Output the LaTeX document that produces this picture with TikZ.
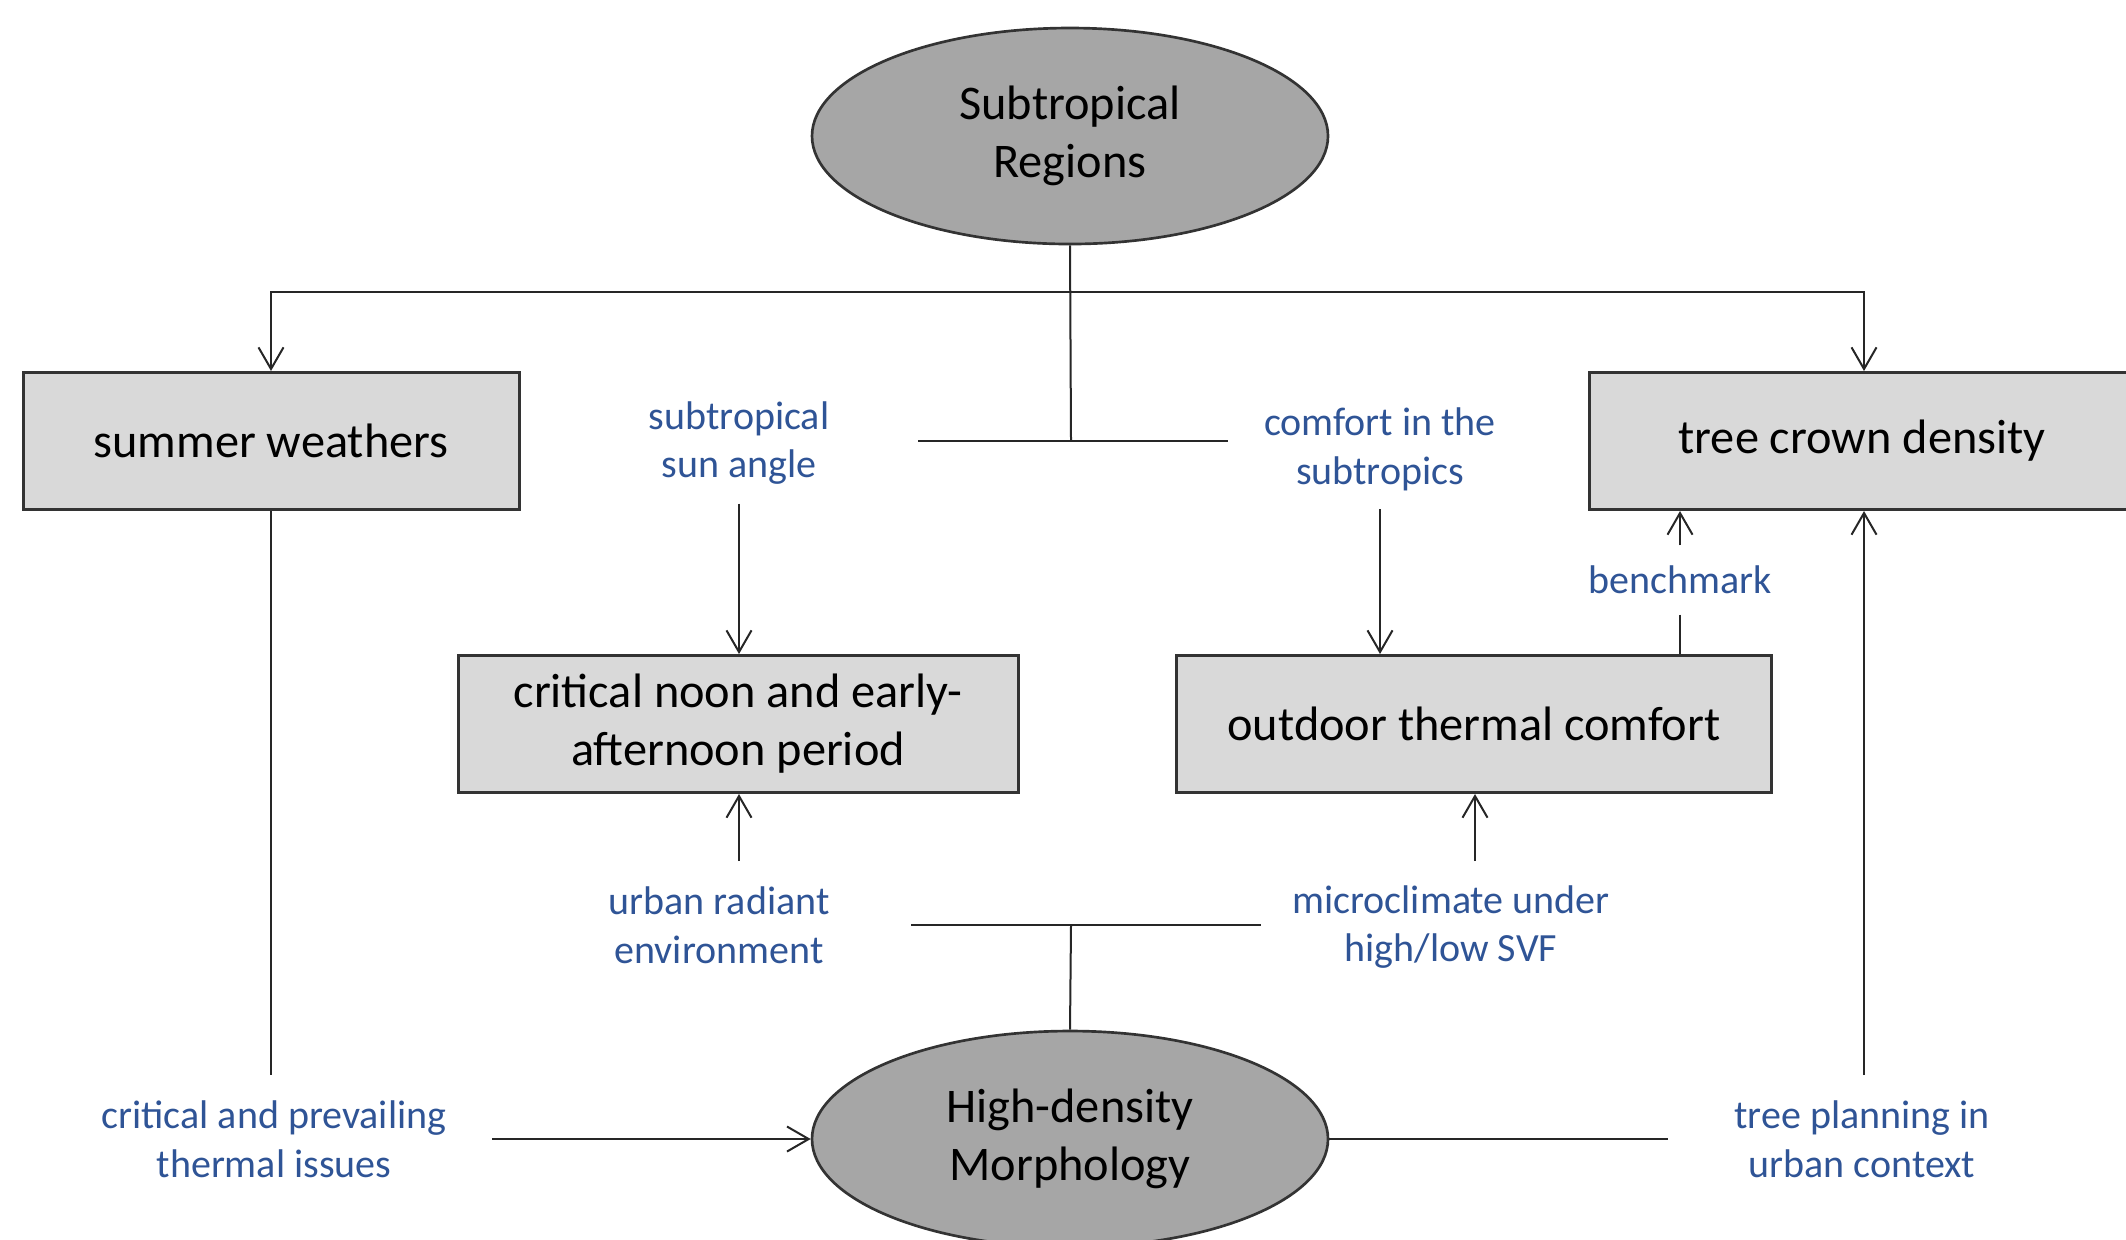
\documentclass[tikz,border=0pt]{standalone}
\usepackage{fontspec}
\setmainfont{Carlito}
\usetikzlibrary{shapes.geometric,arrows.meta}
\definecolor{boxgray}{RGB}{217,217,217}
\definecolor{hubgray}{RGB}{166,166,166}
\definecolor{noteblue}{RGB}{47,84,150}

\begin{document}
\begin{tikzpicture}[x=0.3pt,y=-0.3pt,
	hub/.style={ellipse, draw=black!80, fill=hubgray, line width=0.8pt, minimum width=154.8pt, minimum height=64.8pt, inner sep=0pt, align=center, font=\fontsize{14.5}{17.4}\selectfont},
	box/.style={rectangle, draw=black!80, fill=boxgray, line width=0.9pt, minimum height=41.1pt, align=center, font=\fontsize{14.5}{17.4}\selectfont},
	note/.style={align=center, text=noteblue, inner sep=5.5pt, font=\fontsize{12}{14.6}\selectfont},
	arr/.style={-{Straight Barb[length=6.5pt,width=7.5pt]}, line width=0.6pt, draw=black!85},
	link/.style={line width=0.6pt, draw=black!85}]
	\clip (0,0) rectangle (2126,1239);
	\useasboundingbox (0,0) rectangle (2126,1239);
	% main nodes
	\node (SR) at (1070, 136)	[hub]	{Subtropical\\Regions};
	\node (HM) at (1070,1139)	[hub]	{High-density\\Morphology};
	\node (SW) at ( 271, 441)	[box, minimum width=148.8pt]	{summer weathers};
	\node (TC) at (1862, 441)	[box, minimum width=163.5pt]	{tree crown density};
	\node (CN) at ( 738, 724)	[box, minimum width=168pt]	{critical noon and early-\\afternoon period};
	\node (OT) at (1474, 724)	[box, minimum width=178.5pt]	{outdoor thermal comfort};
	% labels
	\node (SA) at ( 739, 443)	[note]	{subtropical\\sun angle};
	\node (CS) at (1380, 449)	[note]	{comfort in the\\subtropics};
	\node (BM) at (1680, 580)	[note, inner sep=0pt, minimum height=20.4pt]	{benchmark};
	\node (UR) at ( 719, 925)	[note]	{urban radiant\\environment};
	\node (MC) at (1451, 927)	[note]	{microclimate under\\high/low SVF};
	\node (CP) at ( 274,1139)	[note]	{critical and prevailing\\thermal issues};
	\node (TP) at (1862,1139)	[note]	{tree planning in\\urban context};
	% junctions
	\coordinate (B)   at (1071, 292);
	\coordinate (T1)  at (1071, 441);
	\coordinate (T1l) at ( 918, 441);
	\coordinate (T1r) at (1228, 441);
	\coordinate (T2)  at (1071, 925);
	\coordinate (T2l) at ( 911, 925);
	\coordinate (T2r) at (1261, 925);
	\coordinate (URn) at ( 739, 861);
	\coordinate (MCn) at (1475, 861);
	\coordinate (SWe) at ( 271,1075);
	\coordinate (CPe) at ( 492,1139);
	\coordinate (TPw) at (1668,1139);
	\coordinate (TPn) at (1864,1075);
	% connectors
	\draw[link] (SR.south) -- (T1);
	\draw[link] (T1l) -- (T1r);
	\draw[arr] (B) -| (SW.north);
	\draw[arr] (B) -| (TPn |- TC.north);
	\draw[arr] (SA) -- (SA |- CN.north);
	\draw[arr] (CS) -- (CS |- OT.north);
	\draw[link] (BM.south) -- (BM.south |- OT.north);
	\draw[arr] (BM.north) -- (BM.north |- TC.south);
	\draw[link] (HM.north) -- (T2);
	\draw[link] (T2l) -- (T2r);
	\draw[arr] (URn) -- (URn |- CN.south);
	\draw[arr] (MCn) -- (MCn |- OT.south);
	\draw[link] (SW.south) -- (SWe);
	\draw[arr] (CPe) -- (HM.west);
	\draw[link] (HM.east) -- (TPw);
	\draw[arr] (TPn) -- (TPn |- TC.south);
\end{tikzpicture}
\end{document}
